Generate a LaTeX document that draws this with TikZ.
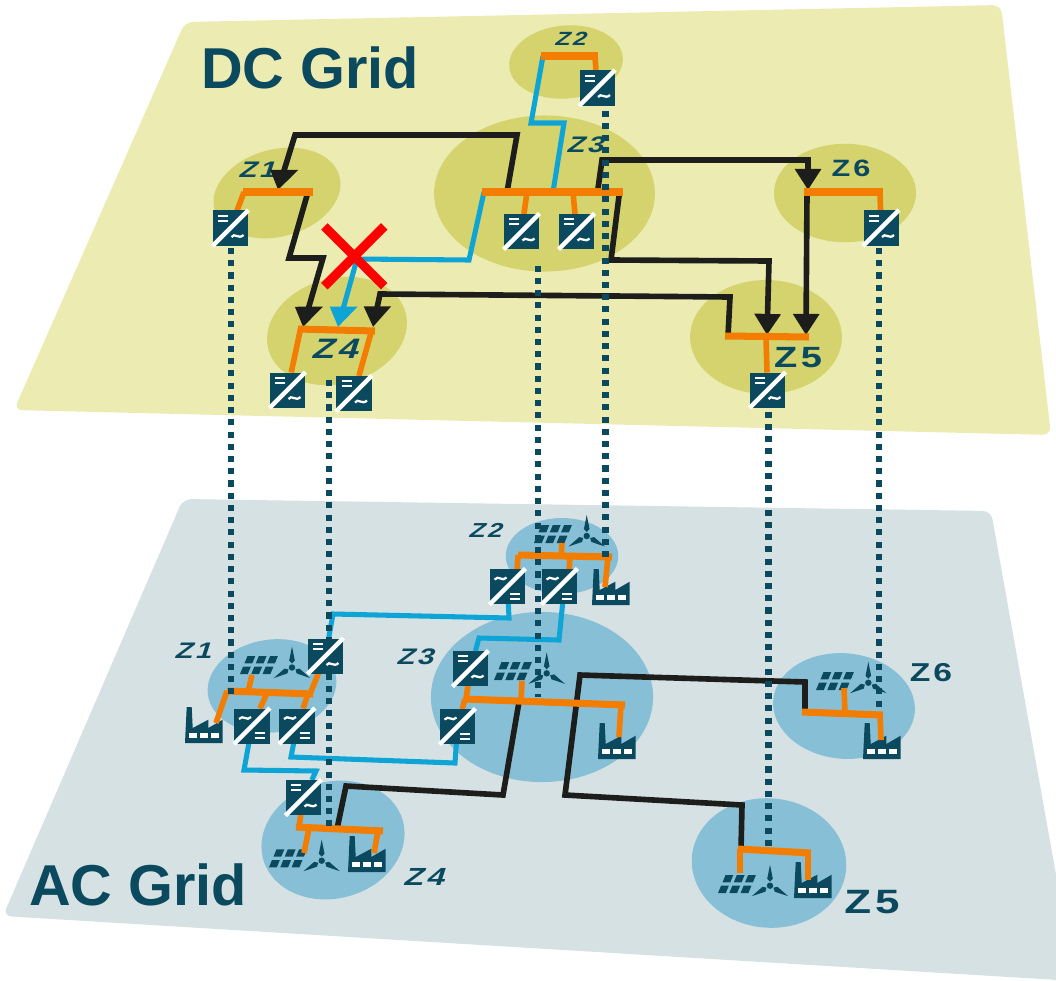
\documentclass[tikz,border=0pt]{standalone}
\usepackage{fontspec}
\setmainfont{Liberation Sans}
\usepackage{xcolor}
\usepackage{tikz}
\usetikzlibrary{arrows.meta, shapes.geometric, shapes.misc}
\definecolor{mydcplane}{RGB}{236, 235, 178}
\definecolor{mydczone}{RGB}{212, 211, 110}
\definecolor{myacplane}{RGB}{214, 225, 228}
\definecolor{myaczone}{RGB}{135, 192, 214}
\definecolor{myteal}{RGB}{11, 74, 94}
\definecolor{myorange}{RGB}{242, 125, 0}
\definecolor{myblue}{RGB}{14, 165, 214}
\definecolor{myblack}{RGB}{29, 29, 27}
\tikzset{
    dczone/.style={ellipse, fill=mydczone, inner sep=0pt},
    aczone/.style={ellipse, fill=myaczone, inner sep=0pt},
    gridtitle/.style={font=\bfseries\fontsize{41}{41}\selectfont, text=myteal, inner sep=0pt},
    zlabel/.style={font=\bfseries\fontsize{16}{16}\selectfont, text=myteal, inner sep=0pt, xscale=1.3, xslant=0.25},
    zflat/.style={font=\bfseries\fontsize{16}{16}\selectfont, text=myteal, inner sep=0pt, xscale=1.3},
    busline/.style={draw=myorange, line width=5pt},
    stubline/.style={draw=myorange, line width=4pt},
    blueline/.style={draw=myblue, line width=3.6pt},
    blackline/.style={draw=myblack, line width=4pt},
    bigtip/.style={-{Triangle[width=18pt, length=15pt, slant=#1]}},
    bigtip/.default=0,
    linkdots/.style={draw=myteal, line width=4.3pt, dash pattern=on 4.3pt off 4.4pt},
    convbox/.style={rectangle, fill=myteal, minimum size=24.9pt, inner sep=0pt, outer sep=0pt},
    dcac/.pic={
        \draw[white, line width=3.2pt] (-18,18) -- (18,-18);
        \draw[white, line width=1.5pt] (-12.5,-12.2) -- (-2.5,-12.2) (-12.5,-7.2) -- (-2.5,-7.2);
        \draw[white, line width=1.6pt] (1,9) .. controls (4,4) and (8,12) .. (13,7);
    },
    acdc/.pic={
        \draw[white, line width=3.2pt] (-18,18) -- (18,-18);
        \draw[white, line width=1.5pt] (2.5,12.2) -- (12.5,12.2) (2.5,7.2) -- (12.5,7.2);
        \draw[white, line width=1.6pt] (-13,-7) .. controls (-9,-12) and (-5,-4) .. (-1,-9);
    },
    factory/.pic={
        \fill[myteal] (0,0) -- (1.7,-36) -- (6.7,-36) -- (7.7,-15) -- (23.3,-23.3) -- (23.3,-15) -- (37.7,-23.3) -- (37.7,0) -- cycle;
        \foreach \winx in {4,15,26}
            \fill[white] (\winx,-5.3) rectangle ({\winx+8},-10);
    },
    solar/.pic={
        \foreach \dx/\dy in {0/0, 4.5/-10.7}
            \foreach \col in {0,11.3,22.6}
                \fill[myteal] ({\col+\dx},\dy) -- ({\col+\dx+7.8},\dy) -- ({\col+\dx+10.8},{\dy-7.3}) -- ({\col+\dx+3},{\dy-7.3}) -- cycle;
    },
    wind/.pic={
        \fill[myteal] (0,0) circle (3.2);
        \foreach \ang in {0,120,240}
            \fill[myteal, rotate=\ang] (0,-21) -- (2.8,-7) -- (0,-4) -- (-2.8,-7) -- cycle;
    },
}

\begin{document}
\begin{tikzpicture}[x=0.025cm, y=-0.025cm]
    \useasboundingbox (0,0) rectangle (1056,980);

    % DC plane
    \fill[mydcplane, rounded corners=6pt] (185,22) -- (1001,5) -- (1051,435) -- (14,410) -- cycle;
    % AC plane
    \fill[myacplane, rounded corners=6pt] (183,499) -- (991,511) -- (1075,981) -- (3,916) -- cycle;

    \node[gridtitle] (dctitle) at (310,68) {DC Grid};
    \node[gridtitle] (actitle) at (138,885) {AC Grid};

    % DC zones
    \node[dczone, minimum width=81pt, minimum height=52pt, rotate=5] (dzone2) at (566,62) {};
    \node[dczone, minimum width=157pt, minimum height=111pt] (dzone3) at (544.5,193.5) {};
    \node[dczone, minimum width=92pt, minimum height=62pt, rotate=15] (dzone1) at (277,193) {};
    \node[dczone, minimum width=101pt, minimum height=75pt, rotate=15] (dzone4) at (337,331) {};
    \node[dczone, minimum width=108pt, minimum height=81pt] (dzone5) at (766,337) {};
    \node[dczone, minimum width=101pt, minimum height=70pt] (dzone6) at (845,193) {};

    % AC zones
    \node[aczone, minimum width=80pt, minimum height=54pt] (azone2) at (562,556) {};
    \node[aczone, minimum width=158pt, minimum height=121pt] (azone3) at (542,697) {};
    \node[aczone, minimum width=92pt, minimum height=66pt, rotate=8] (azone1) at (272,686) {};
    \node[aczone, minimum width=103pt, minimum height=83pt, rotate=15] (azone4) at (333,840) {};
    \node[aczone, minimum width=101pt, minimum height=75pt, rotate=-5] (azone6) at (844,706) {};
    \node[aczone, minimum width=110pt, minimum height=92pt, rotate=-5] (azone5) at (769,863) {};

    % zone labels
    \node[zlabel, scale=0.85] (dlab2) at (572,38.5) {Z\kern1.5pt 2};
    \node[zlabel] (dlab3) at (587,145) {Z\kern1.5pt 3};
    \node[zlabel] (dlab1) at (259,170) {Z\kern1.5pt 1};
    \node[zlabel, scale=1.25] (dlab4) at (337,349) {Z\kern1.5pt 4};
    \node[zflat, scale=1.3] (dlab5) at (798,358) {Z\kern1.5pt 5};
    \node[zflat, scale=1.05] (dlab6) at (851,168) {Z\kern1.5pt 6};
    \node[zlabel, scale=0.9] (alab2) at (487,530) {Z\kern1.5pt 2};
    \node[zlabel] (alab3) at (417,657) {Z\kern1.5pt 3};
    \node[zlabel] (alab1) at (195,651) {Z\kern1.5pt 1};
    \node[zlabel, scale=1.1] (alab4) at (426,877) {Z\kern1.5pt 4};
    \node[zflat, scale=1.5] (alab5) at (872,902) {Z\kern1.5pt 5};
    \node[zflat, scale=1.15] (alab6) at (931,673) {Z\kern1.5pt 6};

    % solar, wind and factory icons
    \foreach \ix/\iy in {240/674, 269/867.3, 534/543, 494/680, 816/690, 718/893}
        \pic at (\ix,\iy) {solar};
    \foreach \ix/\iy in {292/667.5, 321.7/860.7, 586.7/536, 546.7/673.3, 868.3/682.7, 770/885.7}
        \pic at (\ix,\iy) {wind};
    \foreach \ix/\iy in {185/743, 348/872, 592/605, 598/759, 863/759, 794/898}
        \pic at (\ix,\iy) {factory};

    % converters
    \foreach \cname/\cx/\cy in {dc1/230.5/228, dc2/597/88, dc3a/521.5/231.5, dc3b/576.5/231.5, dc4a/287.5/390, dc4b/354/393.5, dc5/767.5/390, dc6/881/228, ac1t/325.5/656, ac4/303.5/797.5, ac3a/470.5/668.5}
        \node[convbox] (\cname) at (\cx,\cy) {};
    \foreach \cname/\cx/\cy in {ac1a/252/726, ac1b/297/726, ac2a/507.5/586.5, ac2b/559.5/586.5, ac3b/457.5/726.5}
        \node[convbox] (\cname) at (\cx,\cy) {};

    % points on the DC buses
    \foreach \cname/\cx/\cy in {dz1L/243/192, dz1R/313/192, dz1s/244/192, dz1g/308/192, dz1in/278/190,
        dz2L/541/56, dz2R/598/56, dz2s/595/56, dz2g/543/56,
        dz3L/482/192, dz3R/623/192, dz3s1/527/192, dz3s2/573/192, dz3g1/484/192, dz3g2/507/192, dz3g3/553/192, dz3g4/597.5/192, dz3g5/619.5/192,
        dz4L/298/329, dz4R/375/331, dz4s1/300.5/329, dz4s2/371.5/331, dz4in1/303/327, dz4in2/338/327, dz4in3/373/327,
        dz5L/725/336, dz5R/809/337, dz5s/766/337, dz5g/728/336, dz5in1/767/335, dz5in2/806/335,
        dz6L/804/192, dz6R/883/192, dz6s/880/192, dz6g/807/192, dz6in/808/190}
        \coordinate (\cname) at (\cx,\cy);

    % points on the AC buses
    \foreach \cname/\cx/\cy in {az1L/227/691, az1R/313/694, az1s2/248/692, az1s3/267/693, az1s4/308/694, az1s5/310/694, az1p/252/675, az1f/216/723,
        az2L/518/555, az2R/612/557, az2s1/518/555, az2s2/570/557, az2s3/561/556, az2s4/608/557, az2p/562/543, az2f/605/587,
        az3L/464/699, az3R/625/705, az3s1/521/701, az3s2/466/699, az3s3/465/699, az3s4/621/705, az3p/522/681, az3f/619/737, az3g/519/702,
        az4L/296/827, az4R/383/831, az4s1/299/827, az4s2/309/828, az4s3/378/831, az4p/304/853, az4f/374/853, az4g/337/829,
        az5L/738/849, az5R/811/853, az5s1/740/849, az5s2/808/853, az5p/740/873, az5f/808/880, az5g/741/850,
        az6L/802/712, az6R/883/715, az6s1/845/713, az6s2/880/715, az6p/844/688, az6f/881/740, az6g/805/713}
        \coordinate (\cname) at (\cx,\cy);

    % DC links
    \draw[blackline, bigtip=-0.3] (dz3g2) -- (517,135) -- (295,135) -- (dz1in);
    \draw[blackline, bigtip=-0.29] (dz1g) -- (289,258) -- (323,258) -- (dz4in1);
    \draw[blackline, bigtip=-0.21] (dz5g) -- (730,297) -- (380,294) -- (dz4in3);
    \draw[blackline, bigtip] (dz3g5) -- (611,260) -- (769,261) -- (dz5in1);
    \draw[blackline, bigtip] (dz3g4) -- (602,160) -- (808,160) -- (dz6in);
    \draw[blackline, bigtip] (dz6g) -- (dz5in2);
    \draw[blueline] (dz2g) -- (531,123) -- (564,123) -- (dz3g3);
    \draw[blueline, bigtip=-0.28] (dz3g1) -- (469,260) -- (357,259) -- (dz4in2);

    % AC links
    \draw[blackline] (az3g) -- (503,795) -- (346,786) -- (az4g);
    \draw[blackline] (az6g) -- (805,682) -- (580,675) -- (565,795) -- (742,805) -- (az5g);
    \draw[blueline] (ac1a) -- (244,770) -- (316,771) -- (ac4);
    \draw[blueline] (ac1b) -- (291,757) -- (455,763) -- (ac3b);
    \draw[blueline] (ac2a) -- (509,618) -- (333,614) -- (ac1t);
    \draw[blueline] (ac2b.-80) -- (559,640) -- (479,638) -- (ac3a);

    % DC buses and stubs
    \draw[busline] (dz1L) -- (dz1R);
    \draw[busline] (dz2L) -- (dz2R);
    \draw[busline] (dz3L) -- (dz3R);
    \draw[busline] (dz4L) -- (dz4R);
    \draw[busline] (dz5L) -- (dz5R);
    \draw[busline] (dz6L) -- (dz6R);
    \draw[stubline] (dz1s) -- (dc1);
    \draw[stubline] (dz2s) -- (dc2);
    \draw[stubline] (dz3s1) -- (dc3a);
    \draw[stubline] (dz3s2) -- (dc3b);
    \draw[stubline] (dz4s1) -- (dc4a);
    \draw[stubline] (dz4s2) -- (dc4b);
    \draw[stubline] (dz5s) -- (dc5);
    \draw[stubline] (dz6s) -- (dc6);

    % AC buses and stubs
    \draw[busline] (az1L) -- (az1R);
    \draw[busline] (az2L) -- (az2R);
    \draw[busline] (az3L) -- (az3R);
    \draw[busline] (az4L) -- (az4R);
    \draw[busline] (az5L) -- (az5R);
    \draw[busline] (az6L) -- (az6R);
    \draw[stubline] (az1L) -- (az1f);
    \draw[stubline] (az1s2) -- (az1p);
    \draw[stubline] (az1s3) -- (ac1a);
    \draw[stubline] (az1s4) -- (ac1b);
    \draw[stubline] (az1s5) -- (ac1t);
    \draw[stubline] (az2s1) -- (ac2a.61);
    \draw[stubline] (az2s2) -- (ac2b.61);
    \draw[stubline] (az2s3) -- (az2p);
    \draw[stubline] (az2s4) -- (az2f);
    \draw[stubline] (az3s1) -- (az3p);
    \draw[stubline] (az3s2) -- (ac3a);
    \draw[stubline] (az3s3) -- (ac3b);
    \draw[stubline] (az3s4) -- (az3f);
    \draw[stubline] (az4s1) -- (ac4);
    \draw[stubline] (az4s2) -- (az4p);
    \draw[stubline] (az4s3) -- (az4f);
    \draw[stubline] (az5s1) -- (az5p);
    \draw[stubline] (az5s2) -- (az5f);
    \draw[stubline] (az6s1) -- (az6p);
    \draw[stubline] (az6s2) -- (az6f);

    % dotted links between the grids
    \foreach \dname/\dx/\dya/\dyb in {1/230.7/248/694, 2/605.5/110.7/558, 3/537.7/265.6/697, 4/328.7/380/826, 5/768.5/411.7/852, 6/879/248/712.7} {
        \coordinate (dtop\dname) at (\dx,\dya);
        \coordinate (dend\dname) at (\dx,\dyb);
        \draw[linkdots] (dtop\dname) -- (dend\dname);
    }

    % converter faces
    \foreach \cname in {dc1, dc2, dc3a, dc3b, dc4a, dc4b, dc5, dc6, ac1t, ac4, ac3a} {
        \node[convbox] (\cname face) at (\cname) {};
        \pic at (\cname) {dcac};
    }
    \foreach \cname in {ac1a, ac1b, ac2a, ac2b, ac3b} {
        \node[convbox] (\cname face) at (\cname) {};
        \pic at (\cname) {acdc};
    }

    % fault mark
    \node[cross out, draw=red, line width=6.5pt, minimum size=36pt, inner sep=0pt] (fault) at (354.3,256.3) {};
\end{tikzpicture}
\end{document}
